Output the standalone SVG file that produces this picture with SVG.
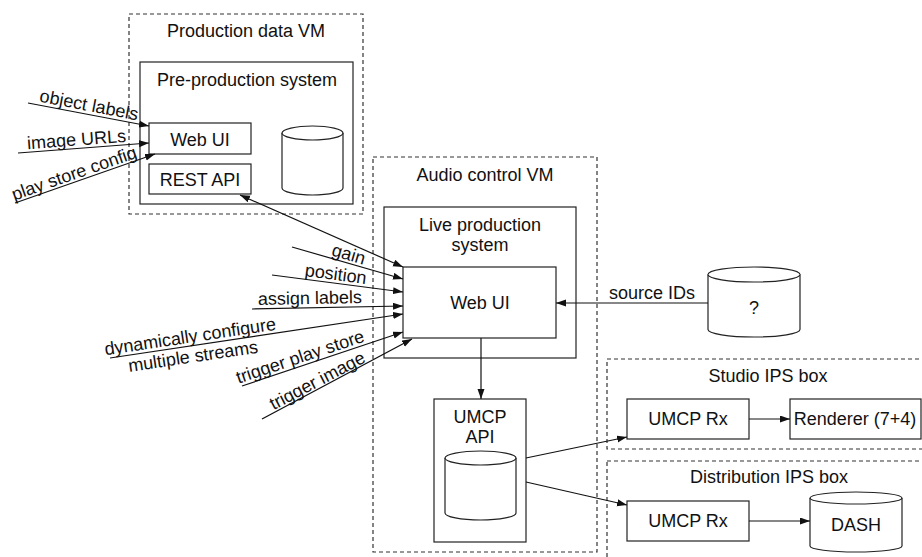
<svg xmlns="http://www.w3.org/2000/svg" width="922" height="557" viewBox="0 0 922 557">
<defs>
<marker id="arr" markerUnits="userSpaceOnUse" markerWidth="11" markerHeight="8" refX="10" refY="3.5" orient="auto-start-reverse">
<path d="M0,0 L10,3.5 L0,7 z" fill="#111"/>
</marker>
<style>
text{font-family:"Liberation Sans",Arial,Helvetica,sans-serif;font-size:18px;fill:#111}
.c{text-anchor:middle}
.box{fill:#fff;stroke:#222;stroke-width:1.2}
.dash{fill:none;stroke:#333;stroke-width:1.2;stroke-dasharray:4 3}
.cyl{fill:#fff;stroke:#222;stroke-width:1.2}
.ln{fill:none;stroke:#111;stroke-width:1.2;marker-end:url(#arr)}
</style>
</defs>
<rect width="922" height="557" fill="#fff"/>

<g id="production-data-vm">
<rect class="dash" x="129" y="14" width="234" height="200"/>
<text class="c" x="246" y="37">Production data VM</text>
</g>
<g id="pre-production-system">
<rect class="box" x="140" y="62" width="213" height="142"/>
<text class="c" x="247" y="86">Pre-production system</text>
</g>
<g id="pre-web-ui">
<rect class="box" x="149" y="123" width="102" height="31"/>
<text class="c" x="200" y="146">Web UI</text>
</g>
<g id="rest-api">
<rect class="box" x="149" y="164" width="102" height="30"/>
<text class="c" x="200" y="186">REST API</text>
</g>
<g id="pre-db">
<path class="cyl" d="M282,133 A30.5,7 0 0 1 343,133 L343,188 A30.5,7 0 0 1 282,188 Z"/>
<path class="cyl" fill="none" d="M282,133 A30.5,7 0 0 0 343,133"/>
</g>

<g id="audio-control-vm">
<rect class="dash" x="373" y="157" width="224" height="395"/>
<text class="c" x="485" y="181">Audio control VM</text>
</g>
<g id="live-production-system">
<rect class="box" x="384" y="207" width="192" height="151"/>
<text class="c" x="480" y="231">Live production</text>
<text class="c" x="480" y="251">system</text>
</g>
<g id="live-web-ui">
<rect class="box" x="403" y="267" width="153" height="71"/>
<text class="c" x="480" y="309">Web UI</text>
</g>
<g id="umcp-api">
<rect class="box" x="434" y="399" width="92" height="143"/>
<text class="c" x="480" y="423">UMCP</text>
<text class="c" x="480" y="443">API</text>
<path class="cyl" d="M445,458 A35.5,7 0 0 1 516,458 L516,513 A35.5,7 0 0 1 445,513 Z"/>
<path class="cyl" fill="none" d="M445,458 A35.5,7 0 0 0 516,458"/>
</g>

<g id="source-db">
<path class="cyl" d="M708,274.5 A46,7.5 0 0 1 800,274.5 L800,329.5 A46,7.5 0 0 1 708,329.5 Z"/>
<path class="cyl" fill="none" d="M708,274.5 A46,7.5 0 0 0 800,274.5"/>
<text class="c" x="754" y="314">?</text>
</g>

<g id="studio-ips-box">
<rect class="dash" x="607" y="359" width="330" height="90"/>
<text class="c" x="768" y="382">Studio IPS box</text>
</g>
<g id="studio-umcp-rx">
<rect class="box" x="627" y="399" width="122" height="40"/>
<text class="c" x="688" y="425">UMCP Rx</text>
</g>
<g id="renderer">
<rect class="box" x="790" y="399" width="131" height="40"/>
<text class="c" x="855" y="425">Renderer (7+4)</text>
</g>

<g id="distribution-ips-box">
<rect class="dash" x="607" y="461" width="330" height="110"/>
<text class="c" x="769" y="483">Distribution IPS box</text>
</g>
<g id="dist-umcp-rx">
<rect class="box" x="627" y="501" width="122" height="40"/>
<text class="c" x="688" y="527">UMCP Rx</text>
</g>
<g id="dash-db">
<path class="cyl" d="M810,498 A46,6 0 0 1 902,498 L902,546 A46,6 0 0 1 810,546 Z"/>
<path class="cyl" fill="none" d="M810,498 A46,6 0 0 0 902,498"/>
<text class="c" x="856" y="531">DASH</text>
</g>

<g id="connectors">
<line class="ln" x1="28" y1="103" x2="149" y2="126"/>
<line class="ln" x1="18" y1="153" x2="149" y2="143"/>
<line class="ln" x1="15" y1="203" x2="155" y2="154"/>
<line class="ln" x1="240" y1="195" x2="403" y2="267" style="marker-start:url(#arr)"/>
<line class="ln" x1="292" y1="247" x2="403" y2="279"/>
<line class="ln" x1="272" y1="275" x2="403" y2="292"/>
<line class="ln" x1="252" y1="309" x2="403" y2="306"/>
<line class="ln" x1="110" y1="358" x2="403" y2="314"/>
<line class="ln" x1="242" y1="386" x2="403" y2="332"/>
<line class="ln" x1="262" y1="419" x2="412" y2="339"/>
<line class="ln" x1="708" y1="303" x2="556" y2="303"/>
<line class="ln" x1="481" y1="338" x2="481" y2="399"/>
<line class="ln" x1="526" y1="458" x2="627" y2="437"/>
<line class="ln" x1="526" y1="482" x2="627" y2="505"/>
<line class="ln" x1="749" y1="419" x2="790" y2="419"/>
<line class="ln" x1="749" y1="521" x2="810" y2="521"/>

<text class="c" x="88" y="111" transform="rotate(10.8 88 111)">object labels</text>
<text class="c" x="77" y="145.5" transform="rotate(-4.4 77 145.5)">image URLs</text>
<text class="c" x="76" y="179" transform="rotate(-19.3 76 179)">play store config</text>
<text class="c" x="347" y="260" transform="rotate(16.1 347 260)">gain</text>
<text class="c" x="335" y="280" transform="rotate(7.4 335 280)">position</text>
<text class="c" x="310" y="304" transform="rotate(-1.1 310 304)">assign labels</text>
<text class="c" x="191" y="342.5" transform="rotate(-8.5 191 342.5)">dynamically configure<tspan x="191" dy="20">multiple streams</tspan></text>
<text class="c" x="302" y="362.5" transform="rotate(-18.5 302 362.5)">trigger play store</text>
<text class="c" x="320" y="386" transform="rotate(-27.6 320 386)">trigger image</text>
<text class="c" x="652" y="299">source IDs</text>
</g>
</svg>
